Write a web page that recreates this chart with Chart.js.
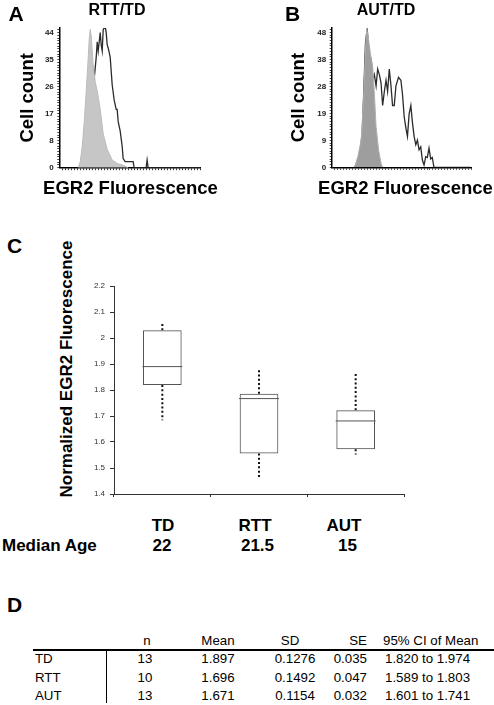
<!DOCTYPE html>
<html><head><meta charset="utf-8">
<script src="https://cdn.jsdelivr.net/npm/chart.js@4.4.0/dist/chart.umd.min.js"></script>
<style>
body{margin:0;background:#fff;}
#root{position:relative;width:494px;height:705px;overflow:hidden;font-family:"Liberation Sans",Arial,sans-serif;color:#000;background:#fff;}
canvas{position:absolute;}
.t{position:absolute;white-space:nowrap;line-height:1;}
.c{transform:translate(-50%,-50%);}
.l{transform:translate(0,-50%);}
.r{transform:translate(-100%,-50%);}
.b{font-weight:bold;}
</style></head><body><div id="root">
<canvas id="cA" width="210" height="200" style="left:0;top:0"></canvas>
<canvas id="cB" width="210" height="200" style="left:272px;top:0"></canvas>
<canvas id="cC" width="345" height="250" style="left:80px;top:265px"></canvas>
</div>
<script>
// ---------- Panel A : RTT / TD histogram (x = fluorescence channel, y = cell count)
const histA_TD_x    = [19,21,23,25,27,29,30,31,32,33,34,36,38,41,44,48,53,58,64,69];
const histA_TD_y    = [0,2,7,15,25,36,42,45,43,38,33,28,25,19,11,6,2.5,1.4,0.8,0];
const histA_RTT_x   = [22,24,26,28,30,32,33,35,37,38,39,41,42,43,44,46,47,48,49,51,53,55,57,58,59,61,63,64,66,74,75,87,88,89,141];
const histA_RTT_y   = [0,5,13,22,30,34,34,29,36,41,38,44,40,38,45,46,44,40,39,36,27,22,19,19,15,12,7,3,2,2,0,0,2.5,0,0];
const yTickLabelsA  = ['0','8','17','26','35','44'];
// ---------- Panel B : AUT / TD histogram
const histB_TD_x    = [23,26.3,29.7,32,34,35.3,37.3,39,41.3,43,44.7,47.3,49.7,51.3];
const histB_TD_y    = [0,3.8,9.7,24,41.7,49.4,45,40.5,35.8,26,14.5,6,1.4,0];
const histB_AUT_x   = [23,26,28,30.7,32,34,35.7,37.3,38.7,39.7,41.3,43,44.7,46.3,48,49.7,51.3,53,54.7,56.3,58,59.7,61.3,63,64.7,67.3,69.7,71.3,73,74.7,76.3,78,79.7,81.3,83,84.7,86.3,88,89.7,91.3,93,94.7,96.3,98,99.7,101.3,103,140];
const histB_AUT_y   = [0,2,4,12,24,44,49.5,42,36,39,31,33,29,35,33,30,22,27,31,27,35,29,22,22,29,32,31,26,18,14,11,19,22,16,11,8,9.7,6.2,7.3,2.6,0.8,3.8,3.5,6.8,3,3.5,0,0];
const yTickLabelsB  = ['0','9','19','28','38','48'];
// ---------- Panel C : box plot of normalized EGR2 fluorescence
const categories    = ['TD','RTT','AUT'];
const medianAge     = ['22','21.5','15'];
const boxLow        = [1.819,1.556,1.572];
const boxHigh       = [2.030,1.786,1.722];
const boxMedian     = [1.890,1.767,1.681];
const whiskerTop    = [2.061,1.880,1.868];
const whiskerBottom = [1.684,1.461,1.552];
const yTickLabelsC  = ['1.4','1.5','1.6','1.7','1.8','1.9','2','2.1','2.2'];
// ---------- Panel D : table
const tableHeader   = ['n','Mean','SD','SE','95% CI of Mean'];
const tableN        = ['13','10','13'];
const tableMean     = ['1.897','1.696','1.671'];
const tableSD       = ['0.1276','0.1492','0.1154'];
const tableSE       = ['0.035','0.047','0.032'];
const tableCI       = ['1.820 to 1.974','1.589 to 1.803','1.601 to 1.741'];

Chart.defaults.font.family = '"Liberation Sans", Arial, sans-serif';
Chart.defaults.color = '#000';

const root = document.getElementById('root');
function txt(s, x, y, size, cls, extra){
  const d = document.createElement('div');
  d.className = 't ' + cls;
  d.textContent = s;
  d.style.left = x + 'px'; d.style.top = y + 'px';
  d.style.fontSize = size + 'px';
  if (extra) Object.assign(d.style, extra);
  root.appendChild(d);
  return d;
}
const pts = (xs, ys) => xs.map((x, i) => ({x, y: ys[i]}));

function histChart(id, o){
  return new Chart(document.getElementById(id), {
    type: 'scatter',
    data: { datasets: [
      { data: pts(o.fx, o.fy), showLine: true, fill: 'origin', backgroundColor: o.fill, borderColor: o.fillEdge, borderWidth: 1, pointRadius: 0, tension: 0 },
      { data: pts(o.lx, o.ly), showLine: true, fill: false, borderColor: '#2b2b2b', borderWidth: 1.3, pointRadius: 0, tension: 0 }
    ]},
    options: {
      responsive: false, animation: false, events: [],
      layout: { padding: { left: 0, right: o.padRight, top: 28, bottom: 0 } },
      plugins: { legend: { display: false }, tooltip: { enabled: false } },
      scales: {
        x: { type: 'linear', min: 0, max: 141,
          afterBuildTicks: s => { const t = []; for (let v = 3; v <= 141; v += 3) t.push({value: v}); s.ticks = t; },
          afterFit: s => { s.height = o.xHeight; },
          ticks: { callback: () => '', autoSkip: false, padding: 0, maxRotation: 0 },
          grid: { drawOnChartArea: false, tickLength: 2.5, color: '#333' },
          border: { color: '#000', width: 1.5 } },
        y: { type: 'linear', min: 0, max: o.ymax,
          afterBuildTicks: s => { const t = []; for (let k = 0; k <= 51; k++) { const v = k * o.minor; if (v <= o.ymax) t.push({value: v}); } s.ticks = t; },
          afterFit: s => { s.width = o.yWidth; },
          ticks: { autoSkip: false, padding: 3.5, font: { size: 8, weight: 'bold' }, color: '#222',
            callback: (v, i) => (i % 10 === 0 ? o.labels[i / 10] : '') },
          grid: { drawOnChartArea: false, tickLength: 2, color: '#444' },
          border: { color: '#000', width: 1.5 },
          title: { display: true, text: 'Cell count', font: { size: 18.5, weight: 'bold' }, color: '#000', padding: { top: o.titlePad, bottom: 0 } } }
      }
    }
  });
}

histChart('cA', { fx: histA_TD_x, fy: histA_TD_y, lx: histA_RTT_x, ly: histA_RTT_y, fill: '#c6c6c6', fillEdge: '#bcbcbc',
  padRight: 10, xHeight: 32.3, yWidth: 59.3, ymax: 45.5, minor: 0.88, labels: yTickLabelsA, titlePad: 17 });
histChart('cB', { fx: histB_TD_x, fy: histB_TD_y, lx: histB_AUT_x, ly: histB_AUT_y, fill: '#9e9e9e', fillEdge: '#b0b0b0',
  padRight: 10.3, xHeight: 32.7, yWidth: 59.7, ymax: 49.6, minor: 0.96, labels: yTickLabelsB, titlePad: 16 });

// Box plot
const whiskerSets = [];
categories.forEach((c, i) => {
  const base = { type: 'line', borderColor: '#111', borderWidth: 2, borderDash: [2, 2.3], pointRadius: 0, fill: false };
  whiskerSets.push(Object.assign({}, base, { data: [{x: c, y: boxHigh[i]}, {x: c, y: whiskerTop[i]}] }));
  whiskerSets.push(Object.assign({}, base, { data: [{x: c, y: boxLow[i]}, {x: c, y: whiskerBottom[i]}] }));
});
new Chart(document.getElementById('cC'), {
  type: 'bar',
  data: { labels: categories, datasets: [
    { type: 'bar', data: categories.map((c, i) => [boxLow[i], boxHigh[i]]), backgroundColor: 'rgba(255,255,255,0)', borderColor: '#555', borderWidth: 1, borderSkipped: false, categoryPercentage: 1, barPercentage: 0.4 },
    { type: 'line', data: boxMedian, showLine: false, pointStyle: 'line', pointRadius: 20, borderColor: '#555', borderWidth: 1 },
    ...whiskerSets
  ]},
  options: {
    responsive: false, animation: false, events: [],
    layout: { padding: { left: 0, right: 12, top: 12, bottom: 0 } },
    plugins: { legend: { display: false }, tooltip: { enabled: false } },
    scales: {
      x: { type: 'category', offset: true,
        afterFit: s => { s.height = 10; },
        ticks: { display: false },
        grid: { offset: true, drawOnChartArea: false, tickLength: 3, color: '#333' },
        border: { color: '#333', width: 1 } },
      y: { type: 'linear', min: 1.4, max: 2.2,
        afterFit: s => { s.width = 34; },
        ticks: { stepSize: 0.1, padding: 5, font: { size: 8 }, color: '#333', callback: (v, i) => yTickLabelsC[i] },
        grid: { drawOnChartArea: false, tickLength: 4, color: '#333' },
        border: { color: '#333', width: 1 } }
    }
  }
});

// Text
txt('A', 16, 13, 21, 'c b');
txt('B', 292.5, 13, 21, 'c b');
txt('RTT/TD', 117, 10, 16, 'c b');
txt('AUT/TD', 386, 10, 16, 'c b');
txt('EGR2 Fluorescence', 130.5, 188, 18.5, 'c b');
txt('EGR2 Fluorescence', 405.5, 188, 18.5, 'c b');
txt('C', 14.5, 244.5, 21, 'c b');
txt('Normalized EGR2 Fluorescence', 66, 368.5, 17, 'b', { transform: 'translate(-50%,-50%) rotate(-90deg)' });
const catX = [163, 255, 344], ageX = [162, 257.5, 347.5];
categories.forEach((c, i) => txt(c, catX[i], 525, 17, 'c b'));
medianAge.forEach((a, i) => txt(a, ageX[i], 545, 17, 'c b'));
txt('Median Age', 2, 545, 17, 'l b');
txt('D', 14.5, 604, 21, 'c b');

// Table D
const hdrPos = [[147,'c'],[218,'c'],[290,'c'],[367,'r'],[383,'l']];
tableHeader.forEach((h, j) => txt(h, hdrPos[j][0], 641, 13.3, hdrPos[j][1]));
const rowY = [659, 678, 696];
const colPos = [[145,'c'],[218,'c'],[295,'c'],[367,'r'],[385,'l']];
categories.forEach((c, i) => {
  txt(c, 35, rowY[i], 13.3, 'l');
  [tableN, tableMean, tableSD, tableSE, tableCI].forEach((col, j) => txt(col[i], colPos[j][0], rowY[i], 13.3, colPos[j][1]));
});
const hr = document.createElement('div');
Object.assign(hr.style, { position: 'absolute', left: '33px', top: '648.5px', width: '461px', height: '2px', background: '#000' });
root.appendChild(hr);
const vr = document.createElement('div');
Object.assign(vr.style, { position: 'absolute', left: '105.5px', top: '650px', width: '1px', height: '53px', background: '#000' });
root.appendChild(vr);
</script>
</body></html>
